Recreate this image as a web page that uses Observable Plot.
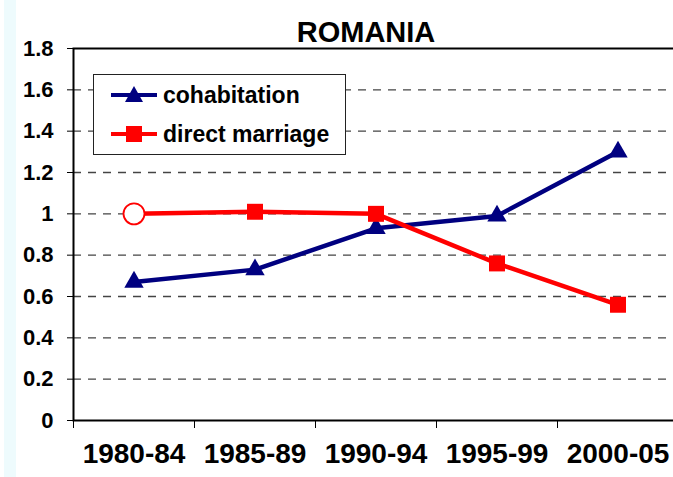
<!DOCTYPE html>
<html>
<head>
<meta charset="utf-8">
<script src="https://cdn.jsdelivr.net/npm/d3@7"></script>
<script src="https://cdn.jsdelivr.net/npm/@observablehq/plot@0.6"></script>
<style>
  html, body { margin: 0; padding: 0; overflow: hidden; background: #fff; }
  #wrap { position: relative; width: 673px; height: 477px;
    background: linear-gradient(to right, #fff 0px, #fff 4px, #eefbfd 4px, #eefbfd 16px, #fff 16px); }
  #wrap svg { background: transparent; display: block; }
  #legend { position: absolute; left: 93px; top: 74px; width: 251px; height: 79px;
    border: 1px solid #222; background: #fff; font-family: "Liberation Sans", Arial, sans-serif;
    font-weight: bold; font-size: 23px; color: #000; }
  .item { position: absolute; left: 16px; height: 24px; display: flex; align-items: center; }
  .item span { margin-left: 5px; }
</style>
</head>
<body>
<div id="wrap">
  <div id="chart"></div>
  <div id="legend"></div>
</div>
<script>
const title = "ROMANIA";
const periods = ["1980-84", "1985-89", "1990-94", "1995-99", "2000-05"];
const cohabitation = [0.67, 0.73, 0.93, 0.99, 1.30];
const directMarriage = [1.00, 1.01, 1.00, 0.76, 0.56];
const yTicks = [0, 0.2, 0.4, 0.6, 0.8, 1, 1.2, 1.4, 1.6, 1.8];
const seriesNames = ["cohabitation", "direct marriage"];
const colors = ["#000080", "#ff0000"];

const idx = periods.map((d, i) => i);
const boundaries = [...idx.map(i => i - 0.5), periods.length - 0.5];
const cohabData = idx.map(i => ({i, v: cohabitation[i]}));
const marData = idx.map(i => ({i, v: directMarriage[i]}));
const font = "Liberation Sans, Arial, sans-serif";

const chart = Plot.plot({
  width: 673,
  height: 477,
  marginLeft: 73,
  marginRight: -5,
  marginTop: 48,
  marginBottom: 57,
  style: {fontFamily: font, background: "transparent", overflow: "hidden"},
  x: {type: "linear", domain: [-0.5, periods.length - 0.5]},
  y: {domain: [0, 1.8]},
  marks: [
    Plot.gridY(yTicks.filter(d => d > 0 && d < 1.8), {stroke: "#444", strokeOpacity: 1, strokeWidth: 1.3, strokeDasharray: "8,7"}),
    Plot.frame({stroke: "#000", strokeWidth: 2}),
    Plot.axisY(yTicks, {tickSize: 6, tickPadding: 14, fontSize: 22, fontWeight: "bold", stroke: "#000",
      tickFormat: d => String(+d.toFixed(1)), label: null}),
    Plot.axisX(boundaries, {tickSize: 8, tickFormat: () => "", label: null, stroke: "#000"}),
    Plot.text(idx, {x: d => d, text: d => periods[d], frameAnchor: "bottom", dy: 42,
      fontSize: 28, fontWeight: "bold", fill: "#000"}),
    Plot.text([title], {frameAnchor: "top", dy: -27, dx: -10, fontSize: 29, fontWeight: "bold", fill: "#000"}),
    Plot.line(cohabData, {x: "i", y: "v", stroke: colors[0], strokeWidth: 4.5}),
    Plot.dot(cohabData, {x: "i", y: "v", symbol: "triangle", r: 7.2, fill: colors[0], stroke: "none"}),
    Plot.line(marData, {x: "i", y: "v", stroke: colors[1], strokeWidth: 4.5}),
    Plot.dot(marData.slice(1), {x: "i", y: "v", symbol: "square", r: 9, fill: colors[1], stroke: "none"}),
    Plot.dot(marData.slice(0, 1), {x: "i", y: "v", r: 10.5, fill: "#fff", stroke: colors[1], strokeWidth: 1.8})
  ]
});
document.getElementById("chart").appendChild(chart);

// Legend
const legend = document.getElementById("legend");
const tops = [8, 47];
seriesNames.forEach((name, k) => {
  const it = document.createElement("div");
  it.className = "item";
  it.style.top = tops[k] + "px";
  const sym = k === 0
    ? `<path d="M24,3 L33,19 L15,19 Z" fill="${colors[0]}"/>`
    : `<rect x="16" y="4" width="16" height="16" fill="${colors[1]}"/>`;
  it.innerHTML = `<svg width="48" height="24"><line x1="1" x2="47" y1="12" y2="12" stroke="${colors[k]}" stroke-width="4"/>${sym}</svg><span>${name}</span>`;
  legend.appendChild(it);
});
</script>
</body>
</html>
